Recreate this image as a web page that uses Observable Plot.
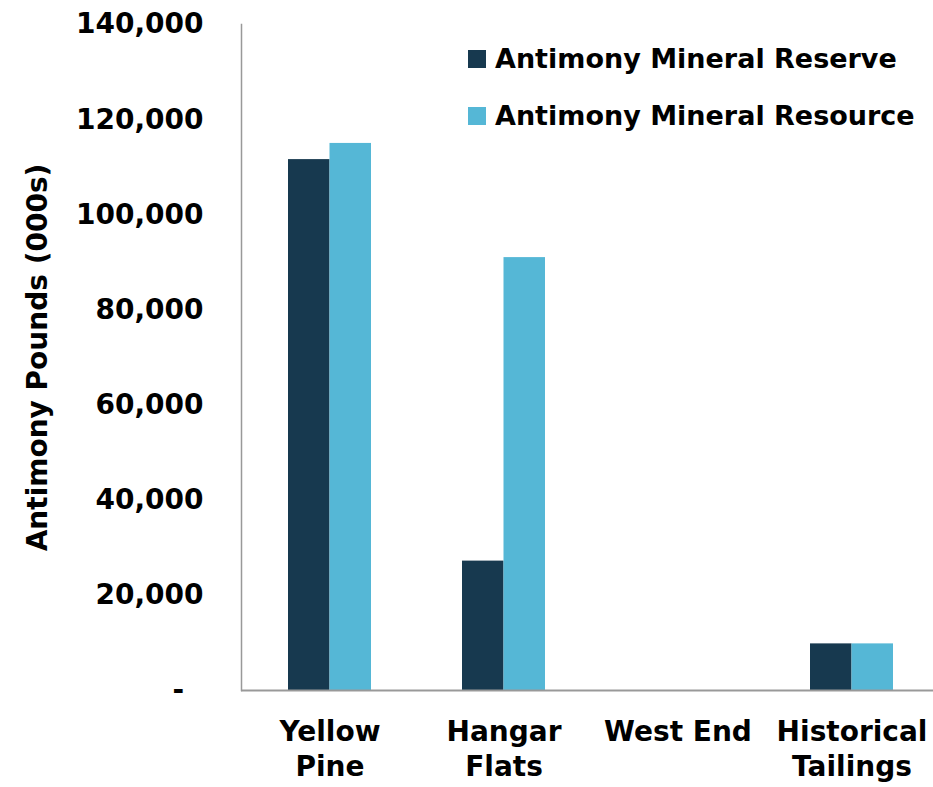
<!DOCTYPE html>
<html>
<head>
<meta charset="utf-8">
<script src="https://cdn.jsdelivr.net/npm/d3@7"></script>
<script src="https://cdn.jsdelivr.net/npm/@observablehq/plot@0.6"></script>
<style>
  html, body { margin: 0; padding: 0; background: #fff; }
  #wrap { position: relative; width: 933px; height: 787px; font-family: "DejaVu Sans", sans-serif; }
  #legend { position: absolute; left: 468px; top: 30px; }
  .item { display: flex; align-items: center; height: 57px; font-size: 27px; font-weight: bold; color: #000; white-space: nowrap; }
  .sw { width: 18px; height: 18px; margin-right: 9px; flex: none; }
</style>
</head>
<body>
<div id="wrap"><div id="legend"></div></div>
<script>
const categories = ["Yellow Pine", "Hangar Flats", "West End", "Historical Tailings"];
const tickLabels = ["Yellow\nPine", "Hangar\nFlats", "West End", "Historical\nTailings"];
const reserve = [111600, 27200, 0, 9800];
const resource = [115000, 91000, 0, 9800];
const seriesNames = ["Antimony Mineral Reserve", "Antimony Mineral Resource"];
const seriesColors = ["#17394F", "#55B7D6"];
const yTicks = [0, 20000, 40000, 60000, 80000, 100000, 120000, 140000];
const yTitle = "Antimony Pounds (000s)";

const rows = [];
categories.forEach((c, i) => {
  rows.push({cat: c, series: seriesNames[0], value: reserve[i]});
  rows.push({cat: c, series: seriesNames[1], value: resource[i]});
});

const half = 41.5;
const fmt = d3.format(",");
const chart = Plot.plot({
  width: 933,
  height: 787,
  marginLeft: 241,
  marginRight: -6,
  marginTop: 24,
  marginBottom: 97,
  style: {fontFamily: "'DejaVu Sans', sans-serif", fontWeight: "bold", color: "#000", background: "#fff", overflow: "hidden"},
  x: {domain: categories, paddingInner: 0.524, paddingOuter: 0.262},
  y: {domain: [0, 140000]},
  color: {domain: seriesNames, range: seriesColors},
  marks: [
    Plot.barY(rows.filter(d => d.series === seriesNames[0]), {x: "cat", y: "value", fill: "series", insetRight: half}),
    Plot.barY(rows.filter(d => d.series === seriesNames[1]), {x: "cat", y: "value", fill: "series", insetLeft: half}),
    Plot.ruleY([0], {stroke: "#999", strokeWidth: 2}),
    Plot.frame({anchor: "left", stroke: "#999", strokeWidth: 1.5}),
    Plot.axisY({ticks: yTicks, tickSize: 0, tickPadding: 38, fontSize: 28, label: null,
      tickFormat: d => d === 0 ? "-\u2007" : fmt(d)}),
    Plot.axisX({tickSize: 0, tickPadding: 26, fontSize: 28, label: null, lineHeight: 1.24,
      tickFormat: d => tickLabels[categories.indexOf(d)]}),
    Plot.text([yTitle], {frameAnchor: "left", textAnchor: "middle", rotate: -90, dx: -203, fontSize: 28, fontWeight: "bold", fill: "#000"})
  ]
});
document.getElementById("wrap").prepend(chart);

const legend = document.getElementById("legend");
seriesNames.forEach((n, i) => {
  const it = document.createElement("div");
  it.className = "item";
  const sw = document.createElement("span");
  sw.className = "sw";
  sw.style.background = seriesColors[i];
  const t = document.createElement("span");
  t.textContent = n;
  it.appendChild(sw); it.appendChild(t);
  legend.appendChild(it);
});
</script>
</body>
</html>
